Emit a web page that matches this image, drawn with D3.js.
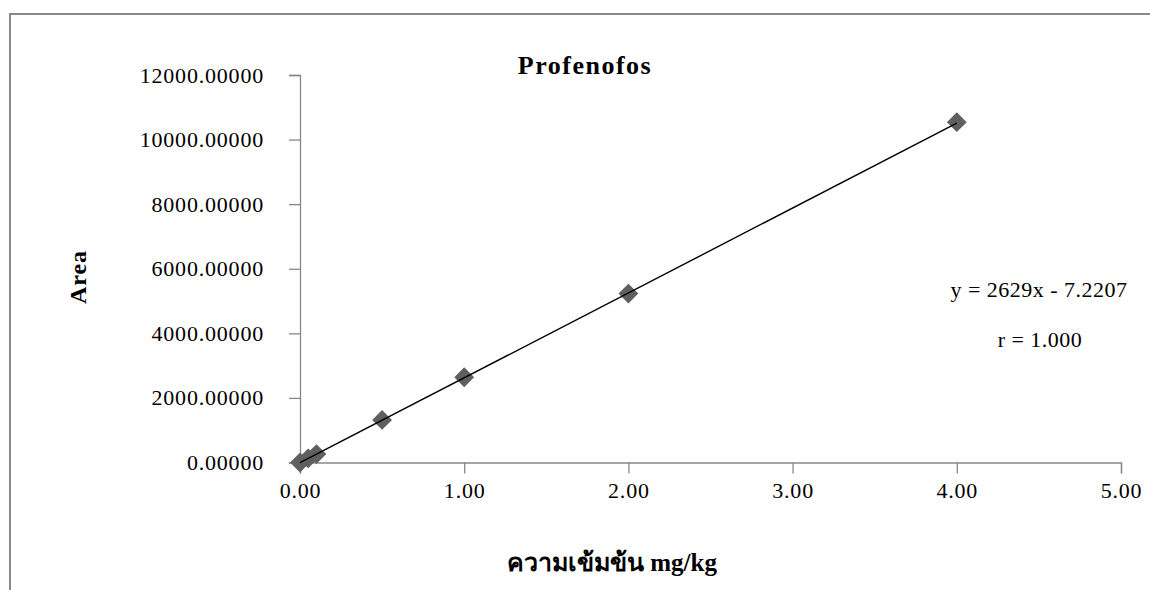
<!DOCTYPE html>
<html>
<head>
<meta charset="utf-8">
<script src="https://cdn.jsdelivr.net/npm/d3@7"></script>
<style>
  body { margin: 0; background: #fff; }
  text { font-family: "Liberation Serif", "Times New Roman", serif; fill: #000; }
</style>
</head>
<body>
<svg id="chart"></svg>
<script>
// data
var concs = [0, 0.05, 0.1, 0.5, 1, 2, 4];
var areas = [0, 130, 260, 1320, 2640, 5230, 10540];
var xTicks = [0, 1, 2, 3, 4, 5];
var yTicks = [0, 2000, 4000, 6000, 8000, 10000, 12000];
var slope = 2629, intercept = -7.2207;

var width = 1150, height = 590;
var margins = { left: 300, top: 75, right: 29, bottom: 127.5 };

var svg = d3.select("#chart")
    .attr("width", width)
    .attr("height", height);

// outer frame (only left and top show in the picture)
svg.append("rect")
    .attr("x", 10).attr("y", 14)
    .attr("width", 1160).attr("height", 600)
    .attr("fill", "none")
    .attr("stroke", "#888")
    .attr("stroke-width", 2);

var w = width - margins.left - margins.right;
var h = height - margins.top - margins.bottom;

var xScale = d3.scaleLinear().domain([0, 5]).range([0, w]);
var yScale = d3.scaleLinear().domain([0, 12000]).range([h, 0]);

var g = svg.append("g")
    .attr("transform", "translate(" + margins.left + "," + margins.top + ")");

var xAxis = d3.axisBottom(xScale)
    .tickValues(xTicks)
    .tickSize(11)
    .tickPadding(8)
    .tickFormat(d3.format(".2f"));

var yAxis = d3.axisLeft(yScale)
    .tickValues(yTicks)
    .tickSize(11)
    .tickPadding(25)
    .tickFormat(d3.format(".5f"));

var gx = g.append("g")
    .attr("transform", "translate(0," + h + ")")
    .call(xAxis);
var gy = g.append("g").call(yAxis);

[gx, gy].forEach(function(a) {
    a.select(".domain").attr("stroke", "#888").attr("stroke-width", 1.3);
    a.selectAll(".tick line").attr("stroke", "#888").attr("stroke-width", 1.3);
    a.selectAll(".tick text")
        .style("font-family", "'Liberation Serif', 'Times New Roman', serif")
        .style("font-size", "22px")
        .style("letter-spacing", "0.8px")
        .attr("fill", "#000");
});
gx.selectAll(".tick text").attr("dy", "0.75em");

// trend line
var lineGenerator = d3.line()
    .x(function(d) { return xScale(d); })
    .y(function(d) { return yScale(slope * d + intercept); });

// diamond markers
var diamond = d3.symbol().type(d3.symbolDiamond2).size(250);
g.selectAll(".pt")
    .data(concs)
    .enter()
    .append("path")
    .attr("class", "pt")
    .attr("d", diamond)
    .attr("transform", function(d, i) {
        return "translate(" + xScale(d) + "," + yScale(areas[i]) + ")";
    })
    .attr("fill", "#5f5f5f");

// line sits over the markers like the picture
g.append("path")
    .datum([0, 4])
    .attr("d", lineGenerator)
    .attr("fill", "none")
    .attr("stroke", "#000")
    .attr("stroke-width", 1.4);

// title and labels
svg.append("text")
    .attr("x", 585).attr("y", 74)
    .attr("text-anchor", "middle")
    .style("font-size", "26px")
    .style("letter-spacing", "1.5px")
    .style("font-weight", "bold")
    .text("Profenofos");

svg.append("text")
    .attr("transform", "translate(86,277) rotate(-90)")
    .attr("text-anchor", "middle")
    .style("font-size", "24px")
    .style("letter-spacing", "1px")
    .style("font-weight", "bold")
    .text("Area");

svg.append("text")
    .attr("x", 612).attr("y", 571)
    .attr("text-anchor", "middle")
    .style("font-size", "25px")
    .style("font-weight", "bold")
    .text("ความเข้มข้น mg/kg");

svg.append("text")
    .attr("x", 1039).attr("y", 297)
    .attr("text-anchor", "middle")
    .style("font-size", "22px")
    .style("letter-spacing", "0.5px")
    .text("y = 2629x - 7.2207");

svg.append("text")
    .attr("x", 1040).attr("y", 347)
    .attr("text-anchor", "middle")
    .style("font-size", "22px")
    .style("letter-spacing", "0.5px")
    .text("r = 1.000");
</script>
</body>
</html>
